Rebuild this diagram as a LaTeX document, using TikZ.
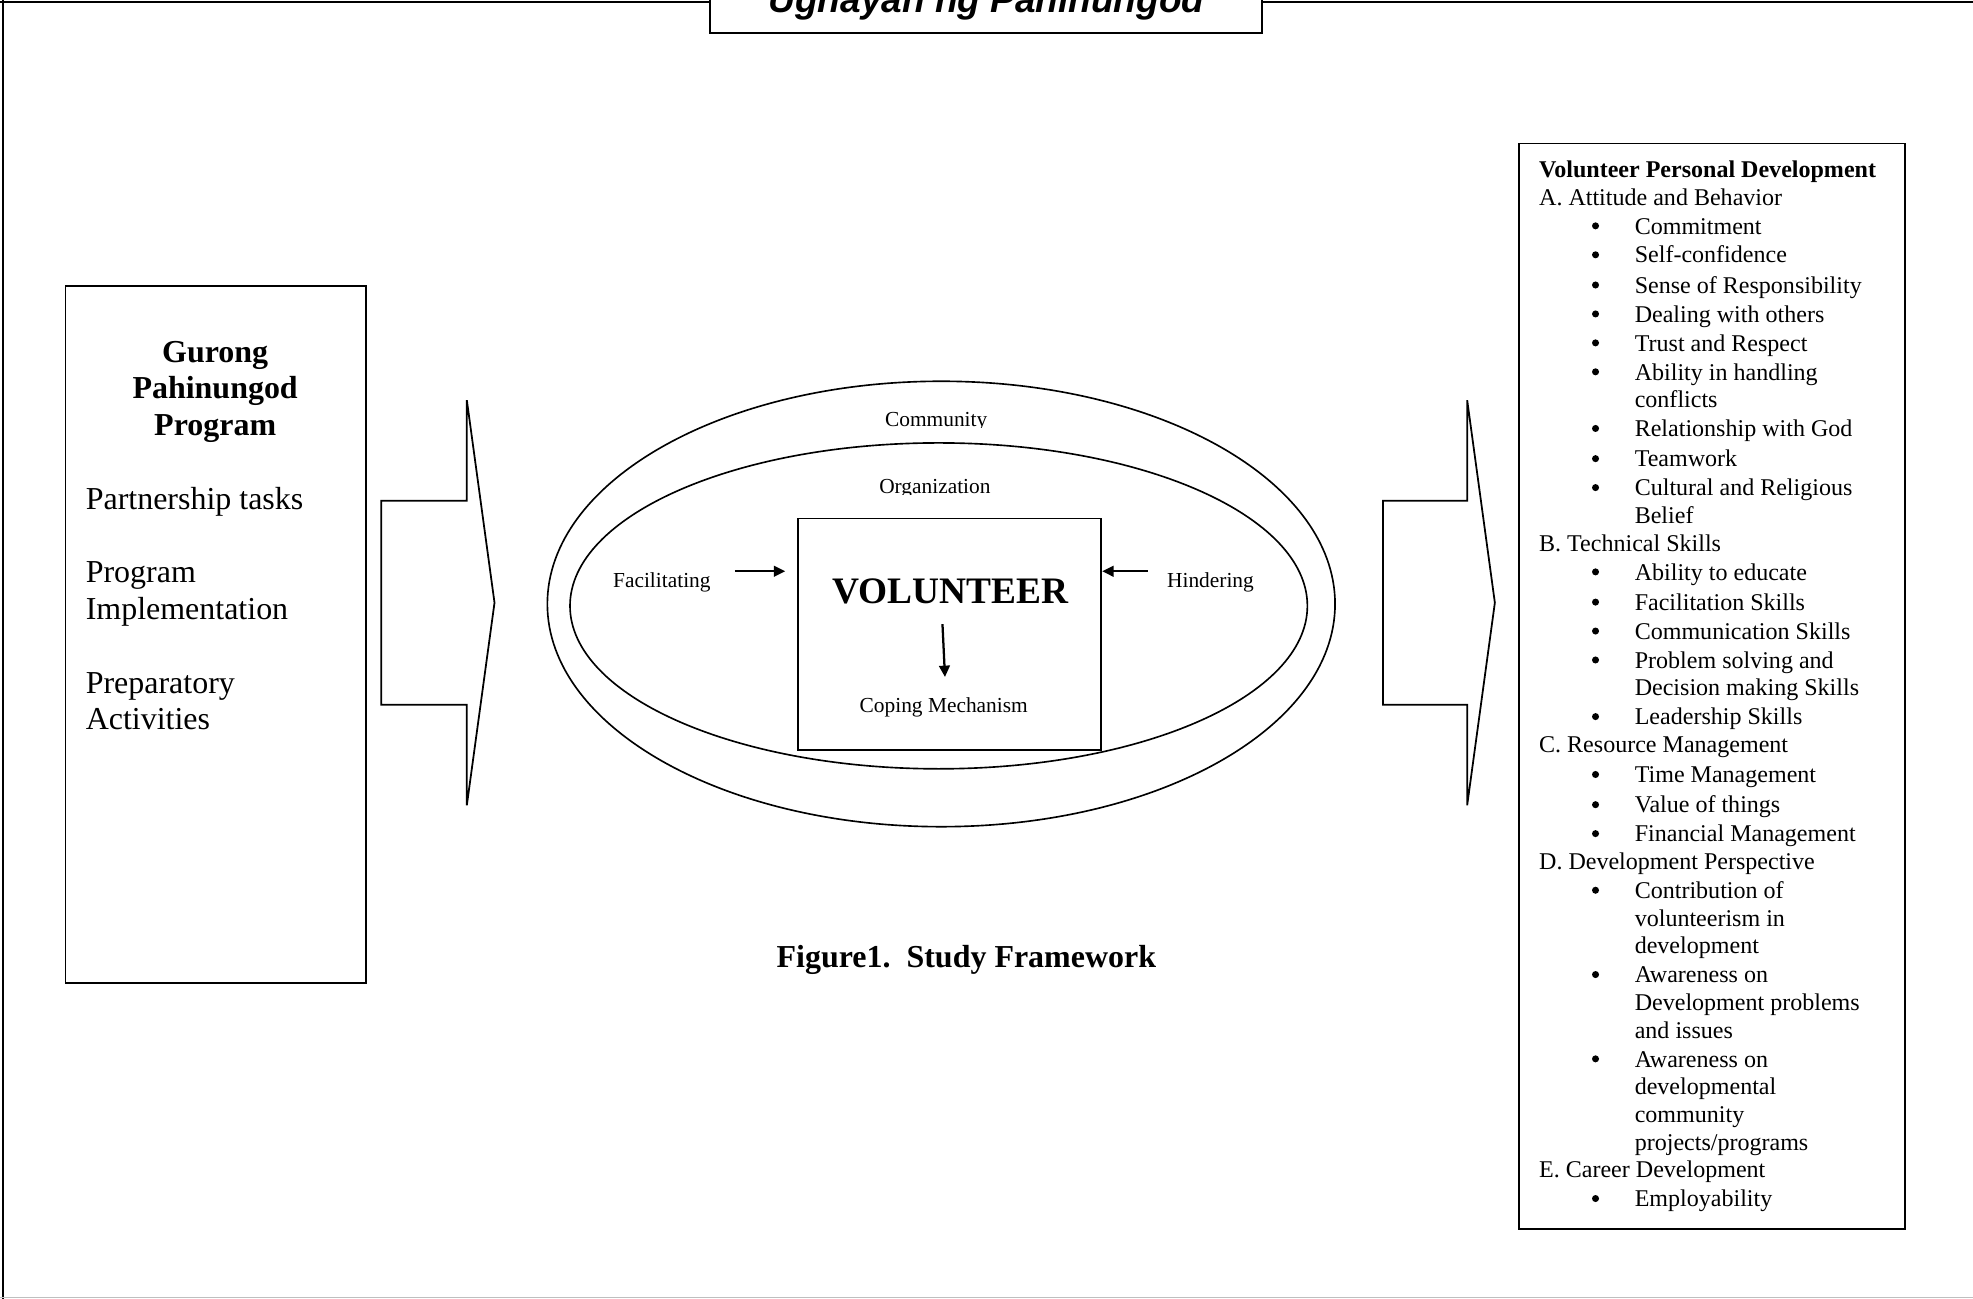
\documentclass[tikz,border=0pt]{standalone}
\usepackage{fontspec}
\setmainfont{Liberation Serif}
\newfontfamily\arialf{Liberation Sans}
\usetikzlibrary{arrows.meta}
\tikzset{
  ln/.style={line width=1.4pt},
  rt/.style={inner sep=0pt, anchor=base west, font=\fontsize{19.1pt}{22pt}\selectfont},
  bul/.style={circle, fill, inner sep=0pt, minimum size=5.6pt},
  lt/.style={inner sep=0pt, anchor=base west, font=\fontsize{25.4pt}{29pt}\selectfont},
  lbold/.style={inner sep=0pt, anchor=base, font=\fontsize{25.4pt}{29pt}\selectfont\bfseries},
  ctext/.style={inner sep=0pt, anchor=base, font=\fontsize{17pt}{20pt}\selectfont},
  arr/.style={line width=1.8pt, -{Triangle[length=9pt,width=8.5pt]}},
}
\begin{document}
\begin{tikzpicture}[x=1pt,y=-1pt]
\path[use as bounding box] (0,0) rectangle (1568,1032);
\clip (0,0) rectangle (1568,1032);
\fill[white] (0,0) rectangle (1568,1032);
% page frame
\draw[line width=1.6pt] (0,1.5) -- (564,1.5);
\draw[line width=1.6pt] (1003,1.5) -- (1568,1.5);
\draw[line width=1.6pt] (2.5,0) -- (2.5,1032);
\draw[line width=1pt, black!25] (0,1031) -- (1568,1031);
% title box
\draw[ln] (564,-20) rectangle (1003,26);
\node[inner sep=0pt, anchor=base, font=\arialf\bfseries\itshape\fontsize{29.4pt}{32pt}\selectfont] (title) at (784,10) {Ugnayan ng Pahinungod};
% left box
\draw[ln] (52,227) rectangle (291,781);
\node[lbold] (g1) at (171,288) {Gurong};
\node[lbold] (g2) at (171,317) {Pahinungod};
\node[lbold] (g3) at (171,346) {Program};
\node[lt] (l1) at (68,405) {Partnership tasks};
\node[lt] (l2) at (68,463) {Program};
\node[lt] (l3) at (68,492) {Implementation};
\node[lt] (l4) at (68,551) {Preparatory};
\node[lt] (l5) at (68,580) {Activities};
% block arrows
\draw[ln, line join=miter] (303,398) -- (371,398) -- (371,318) -- (393,479) -- (371,640) -- (371,560) -- (303,560) -- cycle;
\draw[ln, line join=miter] (1099,398) -- (1166,398) -- (1166,318) -- (1188,479) -- (1166,640) -- (1166,560) -- (1099,560) -- cycle;
% ellipses
\draw[line width=1.3pt] (748,480) ellipse [x radius=313, y radius=177];
\draw[line width=1.3pt] (746,481.5) ellipse [x radius=293, y radius=129.5];
\begin{scope}
  \clip (600,300) rectangle (900,339.5);
  \node[ctext] (comm) at (744,339) {Community};
\end{scope}
\begin{scope}
  \clip (600,360) rectangle (900,393);
  \node[ctext] (org) at (743,392) {Organization};
\end{scope}
% volunteer box
\draw[ln] (634,412) rectangle (875,596);
\node[inner sep=0pt, anchor=base, font=\fontsize{29.7pt}{32pt}\selectfont\bfseries] (vol) at (755,480) {VOLUNTEER};
\node[ctext] (cope) at (750,566) {Coping Mechanism};
\node[ctext] (fac) at (526,467) {Facilitating};
\node[ctext] (hin) at (962,467) {Hindering};
\coordinate (fa1) at (584,454);
\coordinate (fa2) at (624,454);
\coordinate (hi1) at (912,454);
\coordinate (hi2) at (876,454);
\coordinate (dn1) at (749,496);
\coordinate (dn2) at (751,538);
\draw[arr] (fa1) -- (fa2);
\draw[arr] (hi1) -- (hi2);
\draw[arr] (dn1) -- (dn2);
% caption
\node[inner sep=0pt, anchor=base, font=\fontsize{25.4pt}{29pt}\selectfont\bfseries] (cap) at (768,769) {Figure1.\ \ Study Framework};
% right box
\draw[ln] (1207,114) rectangle (1514,977);
\node[rt, font=\fontsize{19.1pt}{22pt}\selectfont\bfseries] (rh) at (1223,141) {Volunteer Personal Development};
\node[rt] (sa) at (1223,163) {A. Attitude and Behavior};
\node[rt] (sb) at (1223,438) {B. Technical Skills};
\node[rt] (sc) at (1223,598) {C. Resource Management};
\node[rt] (sd) at (1223,691) {D. Development Perspective};
\node[rt] (se) at (1223,936) {E. Career Development};
\foreach \yy/\txt [count=\i] in {186/Commitment, 209/Self-confidence, 233/Sense of Responsibility, 256/Dealing with others, 279/Trust and Respect, 302/Ability in handling, 347/Relationship with God, 371/Teamwork, 394/Cultural and Religious, 461/Ability to educate, 485/Facilitation Skills, 508/Communication Skills, 531/Problem solving and, 576/Leadership Skills, 622/Time Management, 646/Value of things, 669/Financial Management, 714/Contribution of, 781/Awareness on, 848/Awareness on, 959/Employability}{
  \node[rt] (it\i) at (1299,\yy) {\txt};
  \node[bul] (bu\i) at (1268,\yy-6.5) {};
}
\foreach \yy/\txt [count=\i] in {324/conflicts, 416/Belief, 553/Decision making Skills, 736/volunteerism in, 758/development, 803/Development problems, 825/and issues, 870/developmental, 892/community, 914/{projects/programs}}{
  \node[rt] (cn\i) at (1299,\yy) {\txt};
}
\end{tikzpicture}
\end{document}
